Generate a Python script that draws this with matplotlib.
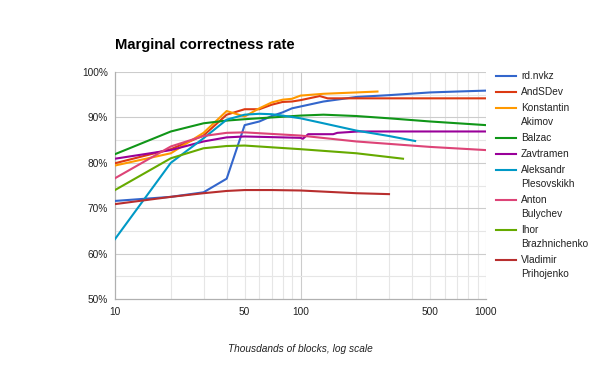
import matplotlib
matplotlib.use("Agg")
import matplotlib.pyplot as plt
from matplotlib.lines import Line2D
from matplotlib.ticker import FixedLocator, NullFormatter, FuncFormatter

plt.rcParams['font.family'] = ['Liberation Sans', 'DejaVu Sans']

names = ["rd.nvkz", "AndSDev", "Konstantin\nAkimov", "Balzac", "Zavtramen",
         "Aleksandr\nPlesovskikh", "Anton\nBulychev", "Ihor\nBrazhnichenko",
         "Vladimir\nPrihojenko"]
colors = ["#3366cc", "#dc3912", "#ff9900", "#109618", "#990099",
          "#0099c6", "#dd4477", "#66aa00", "#b82e2e"]

rd_x = [10, 20, 30, 40, 50, 60, 70, 80, 90, 100, 133, 200, 300, 500, 700, 1000]
rd_y = [71.6, 72.5, 73.5, 76.5, 88.3, 89.1, 90.3, 91.1, 92.0, 92.4, 93.5, 94.5, 94.9, 95.5, 95.7, 95.9]

and_x = [10, 20, 30, 40, 50, 60, 70, 80, 90, 100, 127, 140, 200, 300, 500, 1000]
and_y = [79.9, 83.0, 86.0, 90.6, 91.8, 91.8, 92.8, 93.4, 93.5, 93.8, 94.7, 94.2, 94.2, 94.2, 94.2, 94.2]

kon_x = [10, 20, 30, 40, 50, 60, 70, 80, 90, 100, 133, 200, 260]
kon_y = [79.4, 82.1, 86.6, 91.4, 90.2, 92.0, 93.3, 93.9, 94.1, 94.8, 95.2, 95.5, 95.7]

bal_x = [10, 20, 30, 40, 50, 100, 133, 200, 300, 500, 1000]
bal_y = [81.9, 86.9, 88.7, 89.3, 89.6, 90.4, 90.6, 90.3, 89.8, 89.1, 88.3]

zav_x = [10, 20, 30, 40, 50, 100, 103, 110, 150, 158, 205, 1000]
zav_y = [80.9, 82.8, 84.7, 85.6, 85.8, 85.5, 85.3, 86.3, 86.3, 86.6, 86.9, 86.9]

ale_x = [10, 20, 30, 40, 50, 60, 70, 80, 100, 133, 200, 300, 415]
ale_y = [63.2, 80.0, 85.4, 89.5, 90.6, 90.8, 90.7, 90.4, 89.8, 88.7, 87.1, 85.9, 84.8]

ant_x = [10, 20, 30, 40, 50, 100, 200, 500, 1000]
ant_y = [76.6, 83.6, 85.9, 86.6, 86.7, 86.0, 84.7, 83.5, 82.8]

iho_x = [10, 20, 30, 40, 50, 100, 200, 357]
iho_y = [74.0, 81.0, 83.2, 83.7, 83.8, 83.0, 82.1, 80.9]

vla_x = [10, 20, 30, 40, 50, 70, 100, 200, 300]
vla_y = [70.9, 72.5, 73.3, 73.8, 74.0, 74.0, 73.9, 73.3, 73.1]

series_x = [rd_x, and_x, kon_x, bal_x, zav_x, ale_x, ant_x, iho_x, vla_x]
series_y = [rd_y, and_y, kon_y, bal_y, zav_y, ale_y, ant_y, iho_y, vla_y]

x_ticks = [10, 50, 100, 500, 1000]
y_ticks = [50, 60, 70, 80, 90, 100]

W, H = 600, 371
fig = plt.figure(figsize=(6, 3.71), dpi=100)
ax = fig.add_axes([115 / W, 1 - 299 / H, (486 - 115) / W, (299 - 72) / H])

for xs, ys, c in zip(series_x, series_y, colors):
    ax.plot(xs, ys, color=c, lw=1.5, solid_joinstyle='round', zorder=3)

ax.set_xscale('log')
ax.set_xlim(10, 1000)
ax.set_ylim(50, 100)

ax.xaxis.set_major_locator(FixedLocator(x_ticks))
ax.xaxis.set_major_formatter(FuncFormatter(lambda v, p: f"{int(v)}"))
minor_x = [m * d for d in (10, 100) for m in range(2, 10)]
ax.xaxis.set_minor_locator(FixedLocator(minor_x))
ax.xaxis.set_minor_formatter(NullFormatter())
ax.yaxis.set_major_locator(FixedLocator(y_ticks))
ax.yaxis.set_major_formatter(FuncFormatter(lambda v, p: f"{int(v)}%"))
ax.yaxis.set_minor_locator(FixedLocator([55, 65, 75, 85, 95]))

ax.tick_params(which='both', length=0, labelsize=7.3, colors='#222222', pad=6)
ax.tick_params(axis='y', pad=5)

# grid lines
for v in minor_x:
    ax.axvline(v, color='#e6e6e6', lw=0.8, zorder=0)
for v in (100, 1000):
    ax.axvline(v, color='#cccccc', lw=0.8, zorder=0)
for v in (55, 65, 75, 85, 95):
    ax.axhline(v, color='#e6e6e6', lw=0.8, zorder=0)
for v in (60, 70, 80, 90, 100):
    ax.axhline(v, color='#cccccc', lw=0.8, zorder=0)

for s in ('top', 'right'):
    ax.spines[s].set_visible(False)
for s in ('left', 'bottom'):
    ax.spines[s].set_color('#b0b0b0')
    ax.spines[s].set_linewidth(0.9)

ax.set_xlabel("Thousdands of blocks, log scale", fontsize=7.3, style='italic',
              color='#222222', labelpad=19)

fig.text(115 / W, 1 - 45 / H, "Marginal correctness rate", fontsize=10.6,
         fontweight='bold', ha='left', va='center', color='#000000')

# legend
y = 76
for name, c in zip(names, colors):
    fig.add_artist(Line2D([496 / W, 516 / W], [1 - y / H, 1 - y / H], color=c,
                          lw=1.5, transform=fig.transFigure))
    lines = name.split("\n")
    for i, ln in enumerate(lines):
        fig.text(521 / W, 1 - (y + 14 * i) / H, ln, fontsize=7.3, ha='left',
                 va='center', color='#222222')
    y += 16 + 14 * (len(lines) - 1)

fig.savefig("out.png", dpi=100, facecolor='white')
